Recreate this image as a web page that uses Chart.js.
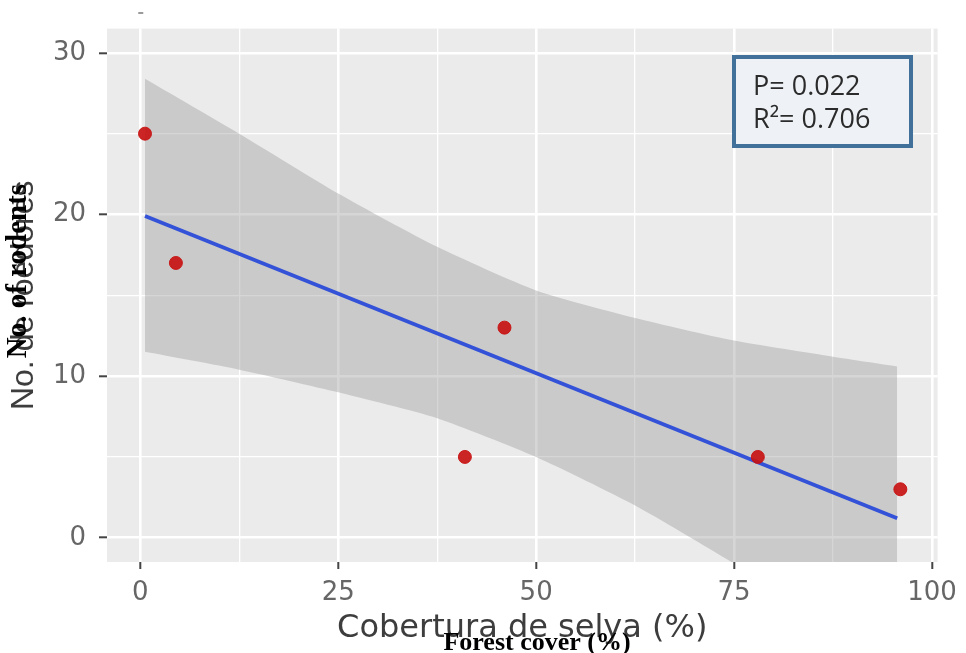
<!DOCTYPE html>
<html>
<head>
<meta charset="utf-8">
<script src="https://cdn.jsdelivr.net/npm/chart.js@4/dist/chart.umd.min.js"></script>
<style>
  body { margin: 0; background: #fff; }
  #wrap { width: 966px; height: 653px; }
</style>
</head>
<body>
<div id="wrap"><canvas id="myChart" width="966" height="653"></canvas></div>
<script>
// observed points (forest cover %, number of rodents)
const forestCover = [0.6, 4.5, 41, 46, 78, 96];
const rodents = [25, 17, 5, 13, 5, 3];

// fitted line at its two ends
const fitX = [0.6, 95.6];
const fitY = [19.9, 1.2];

// confidence band edges
const bandX = [0.6, 12.5, 25, 37.5, 50, 62.5, 75, 87.5, 95.6];
const bandUpper = [28.4, 25.0, 21.3, 18.0, 15.3, 13.6, 12.2, 11.2, 10.6];
const bandLower = [11.5, 10.4, 9.0, 7.4, 5.0, 2.0, -1.6, -5.5, -8.2];

// axis ticks
const xMajorTicks = [0, 25, 50, 75, 100];
const xMinorTicks = [12.5, 37.5, 62.5, 87.5];
const yMajorTicks = [0, 10, 20, 30];
const yMinorTicks = [5, 15, 25];

const statLines = ['P= 0.022', 'R\u00b2= 0.706'];

function pts(xs, ys) {
    return xs.map((x, i) => ({ x: x, y: ys[i] }));
}

// grey ggplot-style panel behind the grid
const panelBg = {
    id: 'panelBg',
    beforeDraw(chart) {
        const { ctx, chartArea: a } = chart;
        ctx.save();
        ctx.fillStyle = '#ebebeb';
        ctx.fillRect(a.left, a.top, a.right - a.left, a.bottom - a.top);
        ctx.restore();
    }
};

// stats box and the pasted english labels
const extras = {
    id: 'extras',
    afterDraw(chart) {
        const ctx = chart.ctx;
        ctx.save();

        // tiny stray tick at the top
        const x0 = chart.scales.x.getPixelForValue(0);
        ctx.fillStyle = '#9a9a9a';
        ctx.fillRect(x0 - 2, 12, 5, 2);

        // stats box
        ctx.fillStyle = '#eef2f6';
        ctx.fillRect(734, 57, 177, 89);
        ctx.strokeStyle = '#41709a';
        ctx.lineWidth = 4;
        ctx.strokeRect(734, 57, 177, 89);
        ctx.fillStyle = '#2b2b2b';
        ctx.font = '27px "Open Sans"';
        ctx.textAlign = 'left';
        ctx.textBaseline = 'alphabetic';
        ctx.fillText(statLines[0], 753, 95);
        ctx.fillText(statLines[1], 753, 128);

        // english overlay labels
        ctx.fillStyle = '#000';
        ctx.font = 'bold 26px "Liberation Serif"';
        ctx.textAlign = 'center';
        ctx.fillText('Forest cover (%)', 537, 650);

        ctx.translate(19, 271);
        ctx.rotate(-Math.PI / 2);
        ctx.textBaseline = 'middle';
        ctx.font = 'bold 29px "Liberation Serif"';
        ctx.fillText('No. of rodents', 0, 0);
        ctx.restore();
    }
};

const ctx = document.getElementById('myChart').getContext('2d');

new Chart(ctx, {
    type: 'scatter',
    data: {
        datasets: [
            {
                label: 'observed',
                data: pts(forestCover, rodents),
                backgroundColor: 'rgba(200, 18, 18, 0.92)',
                borderColor: 'rgba(200, 18, 18, 0.92)',
                pointRadius: 6.5,
                order: 0
            },
            {
                label: 'fit',
                type: 'line',
                data: pts(fitX, fitY),
                borderColor: '#3352d8',
                borderWidth: 3.8,
                pointRadius: 0,
                fill: false,
                order: 1
            },
            {
                label: 'upper',
                type: 'line',
                data: pts(bandX, bandUpper),
                borderWidth: 0,
                borderColor: 'rgba(0,0,0,0)',
                pointRadius: 0,
                tension: 0.2,
                fill: false,
                order: 2
            },
            {
                label: 'lower',
                type: 'line',
                data: pts(bandX, bandLower),
                borderWidth: 0,
                borderColor: 'rgba(0,0,0,0)',
                backgroundColor: 'rgba(153, 153, 153, 0.4)',
                pointRadius: 0,
                tension: 0.2,
                fill: '-1',
                order: 3
            }
        ]
    },
    options: {
        responsive: false,
        animation: false,
        devicePixelRatio: 1,
        layout: { padding: { left: 0, top: 27, right: 24, bottom: 0 } },
        plugins: {
            legend: { display: false },
            tooltip: { enabled: false }
        },
        scales: {
            x: {
                type: 'linear',
                min: -4.2,
                max: 100.7,
                afterFit: (scale) => { scale.height = 91; },
                afterBuildTicks: (scale) => {
                    scale.ticks = xMajorTicks.concat(xMinorTicks).sort((a, b) => a - b).map(v => ({ value: v }));
                },
                border: { display: false },
                grid: {
                    color: '#ffffff',
                    lineWidth: (c) => xMajorTicks.includes(c.tick.value) ? 2.6 : 1.3,
                    tickLength: 7,
                    tickWidth: 2,
                    tickColor: (c) => xMajorTicks.includes(c.tick.value) ? '#444' : 'rgba(0,0,0,0)'
                },
                ticks: {
                    autoSkip: false,
                    maxRotation: 0,
                    padding: 9,
                    color: '#666666',
                    font: { family: '"DejaVu Sans"', size: 26 },
                    callback: (v) => xMajorTicks.includes(v) ? String(v) : ''
                },
                title: {
                    display: true,
                    text: 'Cobertura de selya (%)',
                    color: '#3d3d3d',
                    font: { family: '"DejaVu Sans"', size: 32, lineHeight: 1 },
                    padding: { top: 0, bottom: 8 }
                }
            },
            y: {
                type: 'linear',
                min: -1.5,
                max: 31.5,
                afterFit: (scale) => { scale.width = 107; },
                afterBuildTicks: (scale) => {
                    scale.ticks = yMajorTicks.concat(yMinorTicks).sort((a, b) => a - b).map(v => ({ value: v }));
                },
                border: { display: false },
                grid: {
                    color: '#ffffff',
                    lineWidth: (c) => yMajorTicks.includes(c.tick.value) ? 2.6 : 1.3,
                    tickLength: 8,
                    tickWidth: 2,
                    tickColor: (c) => yMajorTicks.includes(c.tick.value) ? '#444' : 'rgba(0,0,0,0)'
                },
                ticks: {
                    autoSkip: false,
                    padding: 13,
                    color: '#666666',
                    font: { family: '"DejaVu Sans"', size: 26 },
                    callback: (v) => yMajorTicks.includes(v) ? String(v) : ''
                },
                title: {
                    display: true,
                    text: 'No. de roedores',
                    color: '#3d3d3d',
                    font: { family: '"Liberation Sans"', size: 32, lineHeight: 1 },
                    padding: { top: 8, bottom: 0 }
                }
            }
        }
    },
    plugins: [panelBg, extras]
});
</script>
</body>
</html>
